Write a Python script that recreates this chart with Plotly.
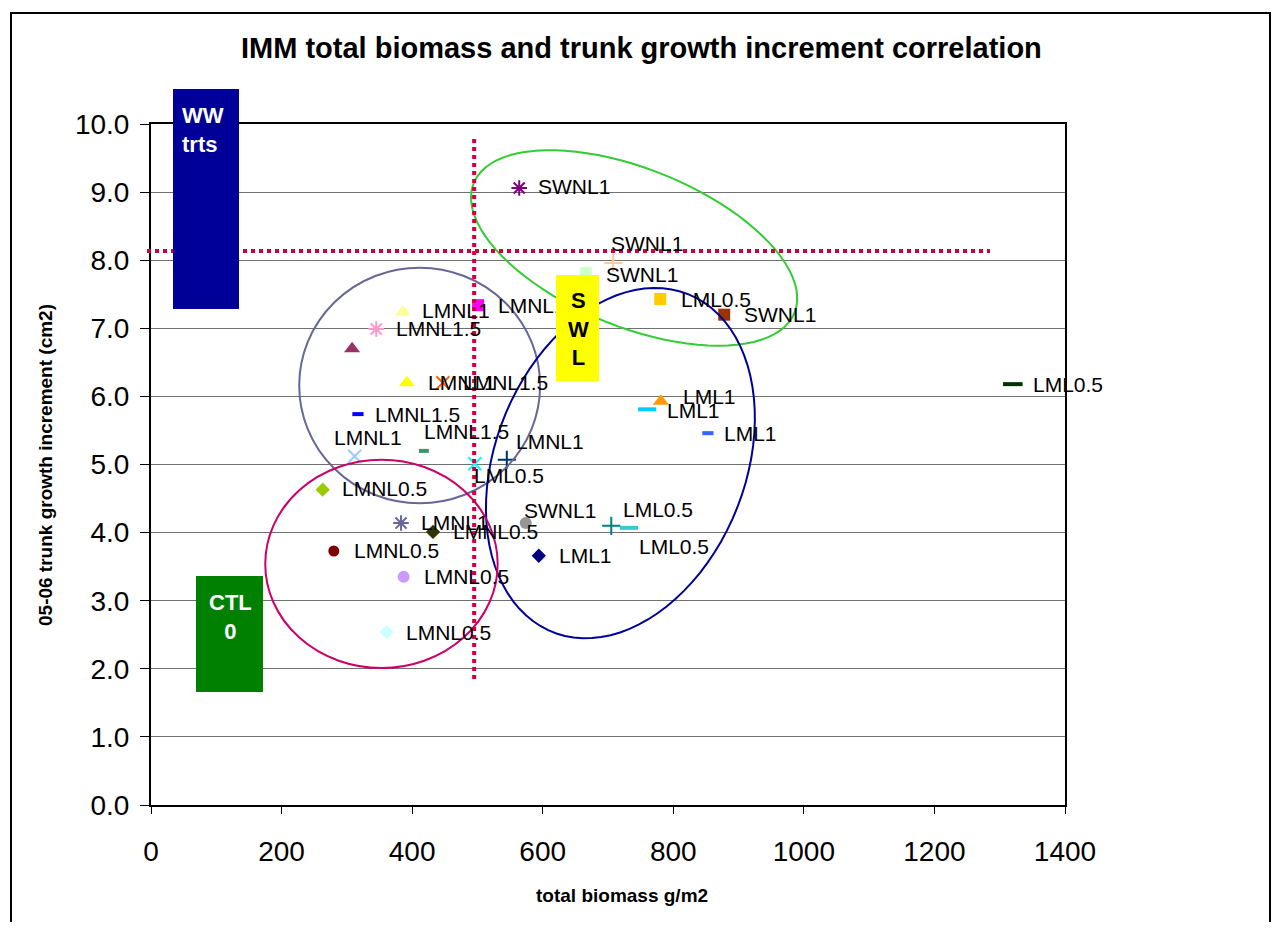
import numpy as np
import plotly.graph_objects as go

# data
biomass = [564, 708, 666, 501, 386, 345, 780, 878, 308, 392,
           447, 781, 760, 1320, 317, 853, 312, 418, 496, 545,
           263, 383, 432, 574, 705, 732, 594, 280, 387, 361]
increment = [9.06, 7.96, 7.81, 7.34, 7.24, 6.99, 7.43, 7.20, 6.70, 6.20,
             6.20, 5.93, 5.81, 6.18, 5.74, 5.46, 5.12, 5.20, 5.01, 5.07,
             4.63, 4.14, 4.01, 4.14, 4.10, 4.07, 3.66, 3.73, 3.35, 2.54]
point_labels = ["SWNL1", "SWNL1", "SWNL1", "LMNL1", "LMNL1", "LMNL1.5", "LML0.5", "SWNL1", "", "LMNL1",
                "LMNL1.5", "LML1", "LML1", "LML0.5", "LMNL1.5", "LML1", "LMNL1", "LMNL1.5", "LML0.5", "LMNL1",
                "LMNL0.5", "LMNL1", "LMNL0.5", "SWNL1", "LML0.5", "LML0.5", "LML1", "LMNL0.5", "LMNL0.5", "LMNL0.5"]

# marker styles
colors = ["#800080", "#FFCC99", "#CCFFCC", "#FF00FF", "#FFFF99", "#FF99CC", "#FFCC00", "#993300", "#993366", "#FFFF00",
          "#FF6600", "#FF9900", "#00CCFF", "#003300", "#0000FF", "#3366FF", "#99CCFF", "#339966", "#00FFFF", "#003366",
          "#99CC00", "#666699", "#333300", "#969696", "#008080", "#33CCCC", "#000080", "#800000", "#CC99FF", "#CCFFFF"]
kinds = ["asterisk", "plus", "square", "square", "triangle", "asterisk", "square", "square", "triangle", "triangle",
         "x", "triangle", "dash", "dash", "dash", "dash", "x", "dash", "x", "plus",
         "diamond", "asterisk", "diamond", "circle", "plus", "dash", "diamond", "circle", "circle", "diamond"]
sizes = [13, 13, 12, 12, 14, 13, 12, 12, 14, 14,
         13, 14, 13, 14, 8, 8, 13, 7, 13, 13,
         11, 13, 11, 12, 13, 13, 11, 11, 12, 11]
# label offsets in pixels: (left edge from marker, down from marker)
label_offsets = [(18, -2), (-3, -19), (19, 1), (19, 0), (18, -1), (19, 0), (20, 0), (19, 0), (0, 0), (20, 0),
                 (19, 0), (21, -5), (19, 1), (19, 0), (16, 0), (15, 0), (-22, -19), (-1, -19), (-2, 12), (8, -18),
                 (18, -1), (19, -1), (19, 0), (-3, -13), (11, -16), (9, 19), (19, 0), (19, 0), (19, 0), (18, 0)]

symbol_map = {"asterisk": "asterisk-open", "plus": "cross-thin-open", "x": "x-thin-open",
              "dash": "line-ew-open", "square": "square", "triangle": "triangle-up",
              "diamond": "diamond", "circle": "circle"}
open_kinds = {"asterisk": 2, "plus": 2, "x": 2, "dash": 4}

FONT = "Arial, Liberation Sans, sans-serif"
# plot area in reference pixels; the page body adds an 8px margin
L, T, W, H = 151, 124, 914, 681
PAGE = 8
PX_X, PX_Y = W / 1400, H / 10


def px(x):
    return (x - L) / W


def py(y):
    return (T + H - y) / H


def ellipse_path(cx, cy, a, b, deg):
    t = np.linspace(0, 2 * np.pi, 90)
    th = np.radians(deg)
    ex, ey = a * np.cos(t), b * np.sin(t)
    rx = ex * np.cos(th) - ey * np.sin(th)
    ry = ex * np.sin(th) + ey * np.cos(th)
    xs = cx + rx / PX_X
    ys = cy - ry / PX_Y
    return "M " + " L ".join(f"{x:.2f},{y:.3f}" for x, y in zip(xs, ys)) + " Z"


fig = go.Figure(go.Scatter(
    x=biomass, y=increment, mode="markers",
    marker=dict(symbol=[symbol_map[k] for k in kinds], color=colors, size=sizes, opacity=1,
                line=dict(color=colors, width=[open_kinds.get(k, 0) for k in kinds])),
    showlegend=False, hoverinfo="x+y"))

shapes = [
    dict(type="path", xref="x", yref="y", path=ellipse_path(740, 8.18, 173, 79, 22),
         line=dict(color="#33CC33", width=2)),
    dict(type="circle", xref="x", yref="y", x0=227, x1=596, y0=4.43, y1=7.89,
         line=dict(color="#666699", width=2)),
    dict(type="path", xref="x", yref="y", path=ellipse_path(719, 5.02, 182, 125, -68),
         line=dict(color="#000099", width=2)),
    dict(type="circle", xref="x", yref="y", x0=175, x1=531, y0=2.01, y1=5.07,
         line=dict(color="#CC0066", width=2)),
    dict(type="line", xref="x", yref="y", x0=495, x1=495, y0=1.85, y1=9.84,
         line=dict(color="#D0003C", width=4, dash="dot")),
    dict(type="line", xref="paper", yref="y", x0=px(147), x1=px(990), y0=8.135, y1=8.135,
         line=dict(color="#D0003C", width=4, dash="dot")),
    # outer chart border
    dict(type="rect", xref="paper", yref="paper", x0=px(11), x1=px(1270), y0=py(960), y1=py(13),
         line=dict(color="black", width=2), layer="below"),
]

annotations = []
for x, y, txt, (dx, dy) in zip(biomass, increment, point_labels, label_offsets):
    if not txt:
        continue
    annotations.append(dict(x=x, y=y, xref="x", yref="y", text=txt, showarrow=False,
                            xanchor="left", yanchor="middle", xshift=dx - 1, yshift=-dy,
                            font=dict(family=FONT, size=21, color="black")))

# text boxes
boxes = [
    (173, 239, 89, 309, "#000099", "WW<br>trts", "white", "left", 180, 101, "top"),
    (556, 599, 275, 381, "#FFFF00", "S<br>W<br>L", "black", "center", 578, 329, "middle"),
    (196, 263, 576, 692, "#008000", "CTL<br>0", "white", "center", 230, 617, "middle"),
]
for x0, x1, y0, y1, bg, txt, fc, al, tx, ty, va in boxes:
    annotations.append(dict(x=px((x0 + x1) / 2), y=py((y0 + y1) / 2), xref="paper", yref="paper",
                            text=" ", showarrow=False, bgcolor=bg, width=x1 - x0, height=y1 - y0,
                            borderpad=0, borderwidth=0, xanchor="center", yanchor="middle"))
    annotations.append(dict(x=px(tx), y=py(ty), xref="paper", yref="paper", text=f"<b>{txt}</b>",
                            showarrow=False, align=al, xanchor="left" if al == "left" else "center",
                            yanchor=va, font=dict(family=FONT, size=22, color=fc)))

annotations += [
    dict(x=px(641), y=py(48), xref="paper", yref="paper", showarrow=False,
         xanchor="center", yanchor="middle",
         text="<b>IMM total biomass and trunk growth increment correlation</b>",
         font=dict(family=FONT, size=29, color="black")),
    dict(x=px(622), y=py(895), xref="paper", yref="paper", showarrow=False,
         xanchor="center", yanchor="middle",
         text="<b>total biomass g/m2</b>", font=dict(family=FONT, size=19, color="black")),
    dict(x=px(45), y=py(465), xref="paper", yref="paper", showarrow=False, textangle=-90,
         xanchor="center", yanchor="middle",
         text="<b>05-06 trunk growth increment (cm2)</b>", font=dict(family=FONT, size=19, color="black")),
]

# keep the page inside the window so that no scrollbars appear
fig_w, fig_h = 1280 - 2 * PAGE, 930 - 2 * PAGE
fig.update_layout(
    width=fig_w, height=fig_h, autosize=False,
    margin=dict(l=L - PAGE, r=fig_w - (L - PAGE) - W, t=T - PAGE, b=fig_h - (T - PAGE) - H),
    plot_bgcolor="white", paper_bgcolor="white",
    font=dict(family=FONT, color="black"),
    shapes=shapes, annotations=annotations,
    xaxis=dict(range=[0, 1400], tickvals=list(range(0, 1401, 200)), showgrid=False, zeroline=False,
               showline=True, linecolor="black", linewidth=2, mirror=True,
               ticks="outside", ticklen=7, tickcolor="black", ticklabelstandoff=13,
               tickfont=dict(family=FONT, size=28, color="black")),
    yaxis=dict(range=[0, 10], dtick=1, tickformat=".1f", showgrid=True, gridcolor="#707070", gridwidth=1,
               zeroline=False, showline=True, linecolor="black", linewidth=2, mirror=True,
               ticks="outside", ticklen=9, tickcolor="black", ticklabelstandoff=5,
               tickfont=dict(family=FONT, size=28, color="black")),
)

fig.write_html("out.html")
